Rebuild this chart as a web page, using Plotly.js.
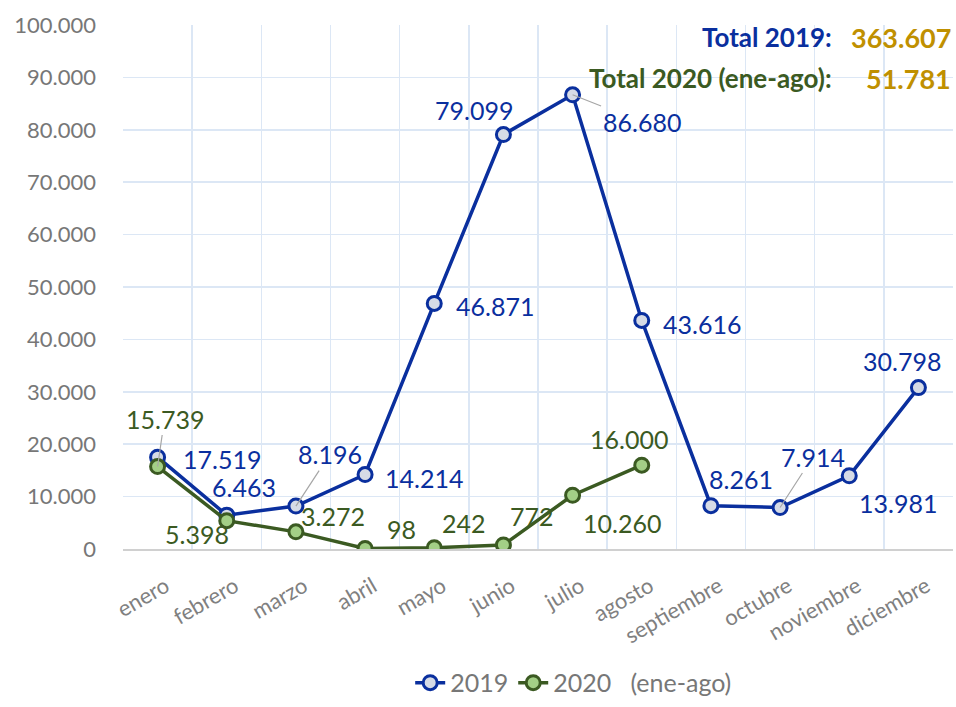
<!DOCTYPE html>
<html><head><meta charset="utf-8">
<script src="https://cdn.plot.ly/plotly-3.0.1.min.js"></script>
<style>body{margin:0;background:#fff}#c{width:956px;height:707px}</style>
</head><body><div id="c"></div>
<script>
const months = ["enero","febrero","marzo","abril","mayo","junio","julio","agosto","septiembre","octubre","noviembre","diciembre"];
const v2019 = [17519,6463,8196,14214,46871,79099,86680,43616,8261,7914,13981,30798];
const v2020 = [15739,5398,3272,98,242,772,10260,16000];
const labels2019 = ["17.519","6.463","8.196","14.214","46.871","79.099","86.680","43.616","8.261","7.914","13.981","30.798"];
const labels2020 = ["15.739","5.398","3.272","98","242","772","10.260","16.000"];
// label offsets in px [dx, dy(down), leader]
const off2019 = [[64,2,0],[17,-28,0],[34,-52,1],[59,3,0],[61,3,0],[-29,-25,0],[69,27,1],[60,4,0],[30,-27,0],[33,-51,1],[49,27,0],[-16,-27,0]];
const off2020 = [[7,-48,1],[-30,13,0],[37,-16,0],[36,-19,0],[30,-25,0],[29,-29,0],[49,28,0],[-13,-26,0]];

const BLUE = "#0a2f9e", GREEN = "#3b5a22", GOLD = "#c09000";
const FONT = "Lato, 'Open Sans', sans-serif";

const traces = [
  {x: months, y: v2019, name: "2019", type: "scatter", mode: "lines+markers",
   line: {color: BLUE, width: 3.5},
   marker: {size: 14, color: "#d6dbe6", line: {color: BLUE, width: 3}}},
  {x: months.slice(0, v2020.length), y: v2020, name: "2020   (ene-ago)", type: "scatter", mode: "lines+markers",
   line: {color: GREEN, width: 3.5},
   marker: {size: 14, color: "#a3cf86", line: {color: GREEN, width: 3}}}
];

const ann = [];
function addLabels(vals, labs, offs, color) {
  vals.forEach((v, i) => {
    const o = offs[i];
    if (o[2]) {
      ann.push({x: months[i], y: v, xref: "x", yref: "y", text: labs[i], showarrow: true,
        ax: o[0], ay: o[1], arrowhead: 0, arrowwidth: 1.2, arrowcolor: "#a6a6a6", standoff: 0,
        font: {family: FONT, size: 25, color: color}});
    } else {
      ann.push({x: months[i], y: v, xref: "x", yref: "y", text: labs[i], showarrow: false,
        xshift: o[0], yshift: -o[1], font: {family: FONT, size: 25, color: color}});
    }
  });
}
addLabels(v2019, labels2019, off2019, BLUE);
addLabels(v2020, labels2020, off2020, GREEN);

ann.push({xref: "paper", yref: "paper", x: 0.857, y: 0.977, xanchor: "right", yanchor: "middle", showarrow: false,
  text: "<b>Total 2019:</b>", font: {family: FONT, size: 26, color: BLUE}});
ann.push({xref: "paper", yref: "paper", x: 1.0, y: 0.977, xanchor: "right", yanchor: "middle", showarrow: false,
  text: "<b>363.607</b>", font: {family: FONT, size: 27, color: GOLD}});
ann.push({xref: "paper", yref: "paper", x: 0.857, y: 0.898, xanchor: "right", yanchor: "middle", showarrow: false,
  text: "<b>Total 2020 (ene-ago):</b>", font: {family: FONT, size: 26, color: GREEN}});
ann.push({xref: "paper", yref: "paper", x: 1.0, y: 0.898, xanchor: "right", yanchor: "middle", showarrow: false,
  text: "<b>51.781</b>", font: {family: FONT, size: 27, color: GOLD}});

const layout = {
  width: 956, height: 707,
  margin: {l: 123, r: 3, t: 25, b: 157},
  paper_bgcolor: "#fff", plot_bgcolor: "#fff",
  separators: ",.",
  font: {family: FONT, color: "#777"},
  showlegend: true,
  legend: {orientation: "h", x: 0.543, xanchor: "center", y: -0.297, yanchor: "bottom",
    font: {family: FONT, size: 25, color: "#777"}, traceorder: "normal"},
  xaxis: {type: "category", range: [-0.5, 11.5], tickson: "boundaries", showgrid: true, gridcolor: "#dce7f5", gridwidth: 1.5,
    tickangle: -30, tickfont: {family: FONT, size: 22, color: "#808080"}, automargin: false,
    ticklabelstandoff: 14, ticklabelshift: 8,
    showline: true, linecolor: "#d0d0d0", linewidth: 2, ticks: "", fixedrange: true},
  yaxis: {range: [0, 100000], dtick: 10000, tickformat: ",d", showgrid: true, gridcolor: "#dce7f5", gridwidth: 1.5,
    zeroline: false, showline: false, ticks: "", ticklen: 0, automargin: false, ticklabelstandoff: 26,
    tickfont: {family: FONT, size: 22, color: "#777"}},
  annotations: ann
};
Plotly.newPlot("c", traces, layout, {displayModeBar: false, staticPlot: true});
</script></body></html>
